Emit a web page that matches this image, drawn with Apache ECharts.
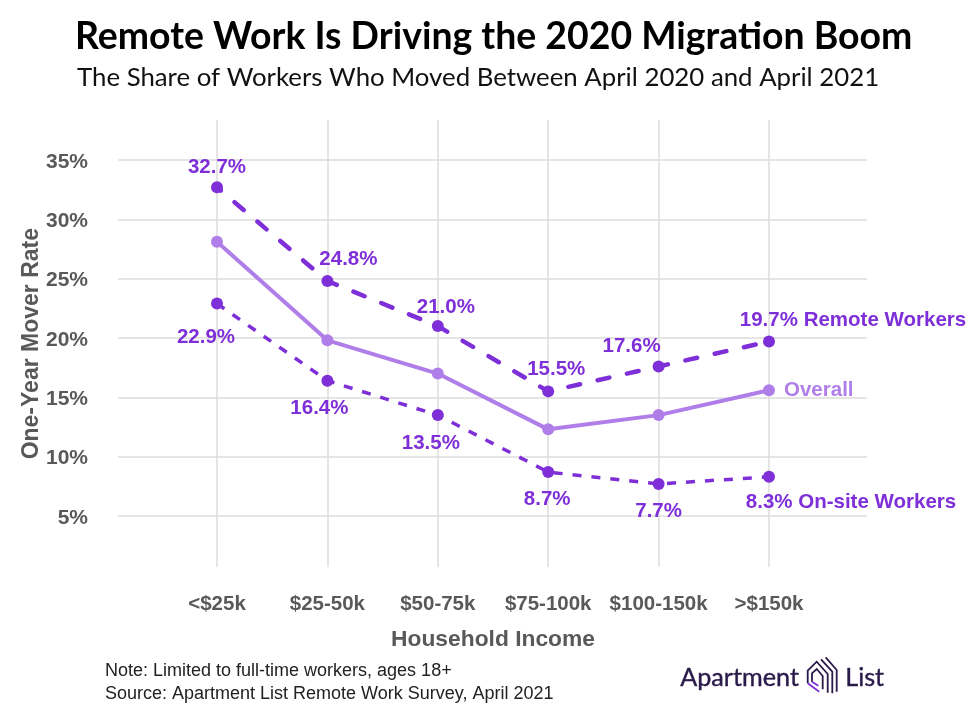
<!DOCTYPE html>
<html>
<head>
<meta charset="utf-8">
<style>
html, body { margin: 0; padding: 0; background: #fff; }
#main { width: 980px; height: 724px; }
</style>
<script src="https://cdn.jsdelivr.net/npm/echarts@6/dist/echarts.min.js"></script>
</head>
<body>
<div id="main"></div>
<script>
var categories = ['<$25k', '$25-50k', '$50-75k', '$75-100k', '$100-150k', '>$150k'];
var remoteWorkers = [32.7, 24.8, 21.0, 15.5, 17.6, 19.7];
var overall = [28.1, 19.8, 17.0, 12.3, 13.5, 15.6];
var onsiteWorkers = [22.9, 16.4, 13.5, 8.7, 7.7, 8.3];
var yTicks = [5, 10, 15, 20, 25, 30, 35];

var purple = '#7e2fd8';
var lightPurple = '#b07ee8';
var grey = '#595959';
var logoDark = '#2a1a4a';
var labelFont = '"Liberation Sans", Arial, sans-serif';

// label offsets from each point, picked by eye
var remoteOffsets = [[0, -20], [21, -22], [8, -19], [8, -22], [-27, -20], [84, -21]];
var onsiteOffsets = [[-11, 34], [-8, 28], [-7, 28], [-1, 27], [0, 27], [82, 26]];

function withLabels(values, offsets, lastName) {
    return values.map(function (v, i) {
        var text = v.toFixed(1) + '%';
        if (i === values.length - 1) {
            text += ' ' + lastName;
        }
        return {
            value: v,
            label: {
                show: true,
                position: 'inside',
                offset: offsets[i],
                formatter: text,
                color: purple,
                fontFamily: labelFont,
                fontWeight: 'bold',
                fontSize: 20.5
            }
        };
    });
}

function logoLine(points, color) {
    return {
        type: 'polyline',
        shape: {points: points},
        style: {stroke: color || logoDark, lineWidth: 1.8, fill: null}
    };
}

var myChart = echarts.init(document.getElementById('main'), null, {renderer: 'canvas'});

var option = {
    backgroundColor: '#fff',
    animation: false,
    grid: [
        // wide grid only carries the horizontal lines and the y labels
        {left: 118, right: 113, top: 120, bottom: 157},
        {left: 217, right: 211, top: 120, bottom: 157}
    ],
    xAxis: [
        {gridIndex: 0, type: 'value', show: false},
        {
            gridIndex: 1,
            type: 'category',
            boundaryGap: false,
            data: categories,
            axisLine: {show: false},
            axisTick: {show: false},
            axisLabel: {
                interval: 0,
                margin: 27,
                color: grey,
                fontFamily: labelFont,
                fontWeight: 'bold',
                fontSize: 20.5,
                showMinLabel: true,
                showMaxLabel: true
            },
            splitLine: {show: true, interval: 0, lineStyle: {color: '#dddddd', width: 1.5}},
            name: 'Household Income',
            nameLocation: 'middle',
            nameGap: 61,
            nameTextStyle: {color: grey, fontFamily: labelFont, fontWeight: 'bold', fontSize: 22.8}
        }
    ],
    yAxis: [
        {
            gridIndex: 0,
            type: 'value',
            min: 0.7,
            max: 38.37,
            axisLine: {show: false},
            axisTick: {show: false, customValues: yTicks},
            splitLine: {show: true, lineStyle: {color: '#dddddd', width: 1.5}},
            axisLabel: {
                customValues: yTicks,
                formatter: '{t|{value}%}',
                margin: 30,
                rich: {
                    t: {
                        padding: [4, 0, 0, 0],
                        color: grey,
                        fontFamily: labelFont,
                        fontWeight: 'bold',
                        fontSize: 21
                    }
                }
            }
        },
        {
            gridIndex: 1,
            type: 'value',
            min: 0.7,
            max: 38.37,
            show: false
        }
    ],
    graphic: [
        {type: 'text', left: 75, top: 18, style: {text: 'Remote Work Is Driving the 2020 Migration Boom', fill: '#000', font: 'bold 37.4px Lato'}},
        {type: 'text', left: 77, top: 65, style: {text: 'The Share of Workers Who Moved Between April 2020 and April 2021', fill: '#111', font: '25.8px Lato'}},
        {type: 'text', left: 105, top: 662, style: {text: 'Note: Limited to full-time workers, ages 18+', fill: '#222', font: '18px "Liberation Sans"'}},
        {type: 'text', left: 105, top: 685, style: {text: 'Source: Apartment List Remote Work Survey, April 2021', fill: '#222', font: '18px "Liberation Sans"'}},
        {type: 'text', left: 680, top: 665, style: {text: 'Apartment', fill: logoDark, stroke: logoDark, lineWidth: 0.4, font: '25.2px Lato'}},
        {type: 'text', left: 845, top: 665, style: {text: 'List', fill: logoDark, stroke: logoDark, lineWidth: 0.4, font: '25.2px Lato'}},
        {type: 'text', rotation: Math.PI / 2, left: 20, top: 228, style: {text: 'One-Year Mover Rate', fill: grey, font: 'bold 23px "Liberation Sans"'}},
        // logo mark
        logoLine([[807.7, 683.3], [807.7, 670.7], [816.7, 661.7], [827.7, 674], [827.7, 692.7]]),
        logoLine([[821, 659.3], [832.3, 671.7], [832.3, 693.3]]),
        logoLine([[825.7, 657.3], [836.7, 670], [836.7, 691.7]]),
        logoLine([[812, 681.7], [812, 673.3], [816.7, 669], [822.7, 676], [822.7, 689.3]]),
        logoLine([[807.7, 683.3], [819.3, 691.7]], purple),
        logoLine([[812, 681.7], [818.3, 685.7]], purple)
    ],
    series: [
        {
            name: 'Remote Workers',
            type: 'line',
            xAxisIndex: 1,
            yAxisIndex: 1,
            data: withLabels(remoteWorkers, remoteOffsets, 'Remote Workers'),
            symbol: 'circle',
            symbolSize: 12,
            itemStyle: {color: purple},
            lineStyle: {color: purple, width: 4.5, type: [12, 18], cap: 'round', dashOffset: 7}
        },
        {
            name: 'Overall',
            type: 'line',
            xAxisIndex: 1,
            yAxisIndex: 1,
            data: overall,
            symbol: 'circle',
            symbolSize: 12,
            itemStyle: {color: lightPurple},
            lineStyle: {color: lightPurple, width: 4},
            endLabel: {
                show: true,
                formatter: 'Overall',
                distance: 15,
                color: lightPurple,
                fontFamily: labelFont,
                fontWeight: 'bold',
                fontSize: 20.5
            }
        },
        {
            name: 'On-site Workers',
            type: 'line',
            xAxisIndex: 1,
            yAxisIndex: 1,
            data: withLabels(onsiteWorkers, onsiteOffsets, 'On-site Workers'),
            symbol: 'circle',
            symbolSize: 12,
            itemStyle: {color: purple},
            lineStyle: {color: purple, width: 3.5, type: [9, 10]}
        }
    ]
};
myChart.setOption(option);
</script>
</body>
</html>
